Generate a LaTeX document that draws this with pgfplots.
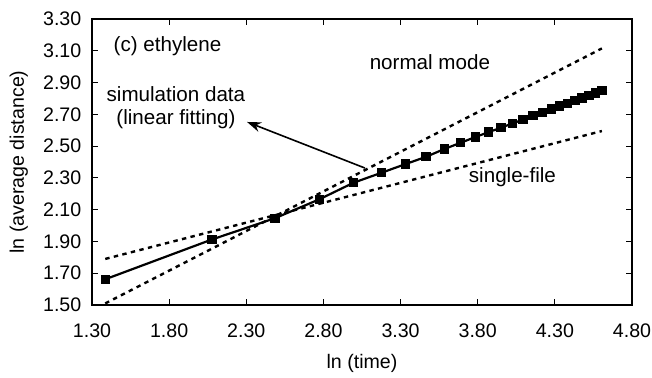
\documentclass[border=0pt]{standalone}
\usepackage{fontspec}
\setmainfont{Liberation Sans}
\usepackage{pgfplots}
\usetikzlibrary{arrows.meta}
\pgfplotsset{compat=1.18}
\begin{document}
\fontsize{9.5}{11}\selectfont
\begin{tikzpicture}
\useasboundingbox (-46pt,-36pt) rectangle (280pt,152.5pt);
\begin{axis}[
  at={(0,0)}, anchor=south west,
  width=270pt, height=143pt, scale only axis,
  xmin=1.3, xmax=4.8, ymin=1.5, ymax=3.3,
  xtick={1.3,1.8,2.3,2.8,3.3,3.8,4.3,4.8},
  ytick={1.5,1.7,1.9,2.1,2.3,2.5,2.7,2.9,3.1,3.3},
  xticklabel style={/pgf/number format/.cd,fixed,fixed zerofill,precision=2},
  yticklabel style={/pgf/number format/.cd,fixed,fixed zerofill,precision=2},
  /pgf/number format/assume math mode=true,
  tick align=inside,
  major tick length=3pt,
  axis line style={line width=1pt},
  every tick/.style={black, line width=0.5pt},
  xticklabel shift=6pt,
  yticklabel shift=2pt,
  xlabel={ln (time)}, ylabel={ln (average distance)},
  xlabel style={yshift=-2pt},
  ylabel style={yshift=1pt},
  tick label style={font=\fontsize{9.8}{11}\selectfont},
  label style={font=\fontsize{9.8}{11}\selectfont},
  clip=false,
]
\addplot[black, line width=1.2pt, dash pattern=on 2.2pt off 2.2pt] coordinates {(1.386,1.51) (4.605,3.115)};
\addplot[black, line width=1.2pt, dash pattern=on 2.2pt off 2.2pt] coordinates {(1.386,1.79) (4.605,2.595)};
\addplot[black, line width=1.1pt, mark=square*, mark size=1.8pt, mark options={solid}] coordinates {
(1.386,1.662) (2.079,1.913) (2.485,2.046) (2.773,2.165) (2.996,2.270)
(3.178,2.333) (3.332,2.387) (3.466,2.433) (3.584,2.482) (3.689,2.521)
(3.784,2.557) (3.871,2.588) (3.951,2.616) (4.025,2.643) (4.094,2.667)
(4.159,2.691) (4.220,2.712) (4.277,2.733) (4.331,2.752) (4.382,2.770)
(4.431,2.787) (4.477,2.804) (4.522,2.820) (4.564,2.835) (4.605,2.849)};
\draw[-{Stealth[length=7pt,width=5pt]}, line width=0.8pt] (axis cs:3.069,2.362) -- (axis cs:2.305,2.652);
\begin{scope}[every node/.style={font=\fontsize{10.3}{12}\selectfont}]
\node[anchor=west] at (axis cs:1.397,3.130) {(c) ethylene};
\node at (axis cs:1.844,2.828) {simulation data};
\node at (axis cs:1.844,2.671) {(linear fitting)};
\node at (axis cs:3.490,3.029) {normal mode};
\node at (axis cs:4.025,2.306) {single-file};
\end{scope}
\end{axis}
\end{tikzpicture}
\end{document}
